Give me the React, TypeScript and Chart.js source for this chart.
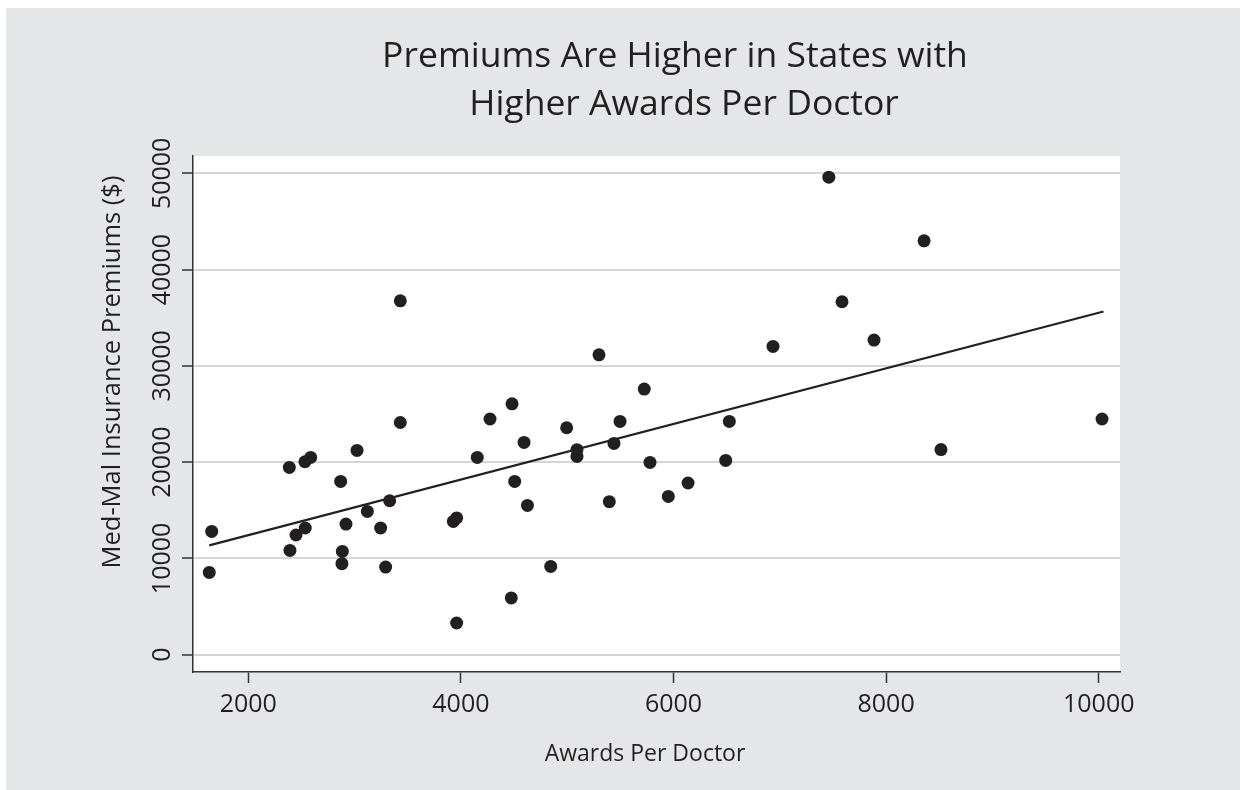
import React, { useEffect, useRef } from "react";
import { Chart, registerables } from "chart.js";

Chart.register(...registerables);

const titleLines = ["Premiums Are Higher in States with", "Higher Awards Per Doctor"];
const xAxisTitle = "Awards Per Doctor";
const yAxisTitle = "Med-Mal Insurance Premiums ($)";

const awardsPerDoctor = [
  1633, 1656, 2386, 2392, 2449, 2533, 2587, 2536, 2869, 2885,
  2881, 2919, 3023, 3120, 3245, 3330, 3292, 3430, 3430, 3929,
  3960, 3960, 4154, 4274, 4481, 4506, 4474, 4594, 4626, 4845,
  5299, 5725, 4995, 5497, 6525, 5092, 5092, 5440, 5779, 6491,
  5396, 5951, 6137, 7461, 8357, 7585, 7886, 6936, 10031, 8516,
];
const premiums = [
  8546, 12804, 19450, 10830, 12430, 20040, 20490, 13160, 18000, 10730,
  9450, 13570, 21220, 14880, 13160, 15990, 9100, 24120, 36760, 13840,
  14200, 3290, 20490, 24480, 26060, 18000, 5890, 22050, 15500, 9170,
  31150, 27590, 23570, 24230, 24230, 21290, 20590, 21940, 19970, 20180,
  15890, 16440, 17830, 49600, 42990, 36660, 32680, 32020, 24480, 21300,
];
const fitX = [1633, 10045];
const fitY = [11350, 35650];

const xTickValues = [2000, 4000, 6000, 8000, 10000];
const yTickValues = [0, 10000, 20000, 30000, 40000, 50000];

const xMin = 1480;
const xMax = 10200;
const yMin = -1800;
const yMax = 51800;

const INK = "#231f20";
const PANEL = "#e5e6e8";
const FONT = "'Open Sans', Lato, sans-serif";

export default function App() {
  const ref = useRef<HTMLCanvasElement | null>(null);

  useEffect(() => {
    if (!ref.current) return;
    const bgPlugin = {
      id: "bg",
      beforeDraw(chart: any) {
        const { ctx, chartArea } = chart;
        ctx.save();
        ctx.fillStyle = "#ffffff";
        ctx.fillRect(0, 0, chart.width, chart.height);
        ctx.fillStyle = PANEL;
        ctx.fillRect(6, 8, chart.width - 6, chart.height - 8);
        ctx.fillStyle = "#ffffff";
        ctx.fillRect(chartArea.left, chartArea.top, chartArea.right - chartArea.left, chartArea.bottom - chartArea.top);
        ctx.restore();
      },
      afterDraw(chart: any) {
        const { ctx } = chart;
        ctx.save();
        ctx.fillStyle = INK;
        ctx.textAlign = "center";
        ctx.textBaseline = "alphabetic";
        ctx.font = `35.5px ${FONT}`;
        ctx.fillText(titleLines[0], 675, 67);
        ctx.fillText(titleLines[1], 684, 115);
        ctx.font = `23px ${FONT}`;
        ctx.fillText(xAxisTitle, 645, 761);
        ctx.font = `25.5px ${FONT}`;
        ctx.translate(120, 372);
        ctx.rotate(-Math.PI / 2);
        ctx.fillText(yAxisTitle, 0, 0);
        ctx.restore();
      },
    };

    const chart = new Chart(ref.current, {
      type: "scatter",
      data: {
        datasets: [
          {
            label: "States",
            data: awardsPerDoctor.map((x, i) => ({ x, y: premiums[i] })),
            backgroundColor: INK,
            borderWidth: 0,
            pointRadius: 6.5,
            pointHoverRadius: 6.5,
          },
          {
            label: "Fit",
            type: "line",
            data: fitX.map((x, i) => ({ x, y: fitY[i] })),
            borderColor: INK,
            borderWidth: 2.2,
            pointRadius: 0,
            fill: false,
          } as any,
        ],
      },
      options: {
        responsive: false,
        animation: false,
        events: [],
        layout: { padding: { left: 0, top: 156, right: 120, bottom: 0 } },
        plugins: {
          legend: { display: false },
          title: { display: false },
          tooltip: { enabled: false },
        },
        scales: {
          x: {
            type: "linear",
            min: xMin,
            max: xMax,
            afterBuildTicks: (s: any) => { s.ticks = xTickValues.map((v) => ({ value: v })); },
            afterFit: (s: any) => { s.height = 118; },
            border: { color: "#333333", width: 1.5 },
            grid: { drawOnChartArea: false, drawTicks: true, tickLength: 11, tickColor: "#333333", tickWidth: 1.5 },
            ticks: { color: INK, font: { family: FONT, size: 25 }, padding: 7, maxRotation: 0, minRotation: 0, autoSkip: false, callback: (v: any) => String(v) },
          },
          y: {
            type: "linear",
            min: yMin,
            max: yMax,
            afterBuildTicks: (s: any) => { s.ticks = yTickValues.map((v) => ({ value: v })); },
            afterFit: (s: any) => { s.width = 193; },
            border: { color: "#333333", width: 1.5 },
            grid: { color: "#d6d6d6", lineWidth: 2, tickLength: 11, tickColor: "#333333", tickWidth: 1.5 },
            ticks: { color: INK, font: { family: FONT, size: 25 }, padding: -17, minRotation: 90, maxRotation: 90, crossAlign: "center", autoSkip: false, callback: (v: any) => String(v) },
          },
        },
      },
      plugins: [bgPlugin],
    });
    return () => chart.destroy();
  }, []);

  return (
    <div style={{ position: "fixed", left: 0, top: 0, width: 1240, height: 790 }}>
      <canvas ref={ref} width={1240} height={790} style={{ width: 1240, height: 790, display: "block" }} />
    </div>
  );
}
